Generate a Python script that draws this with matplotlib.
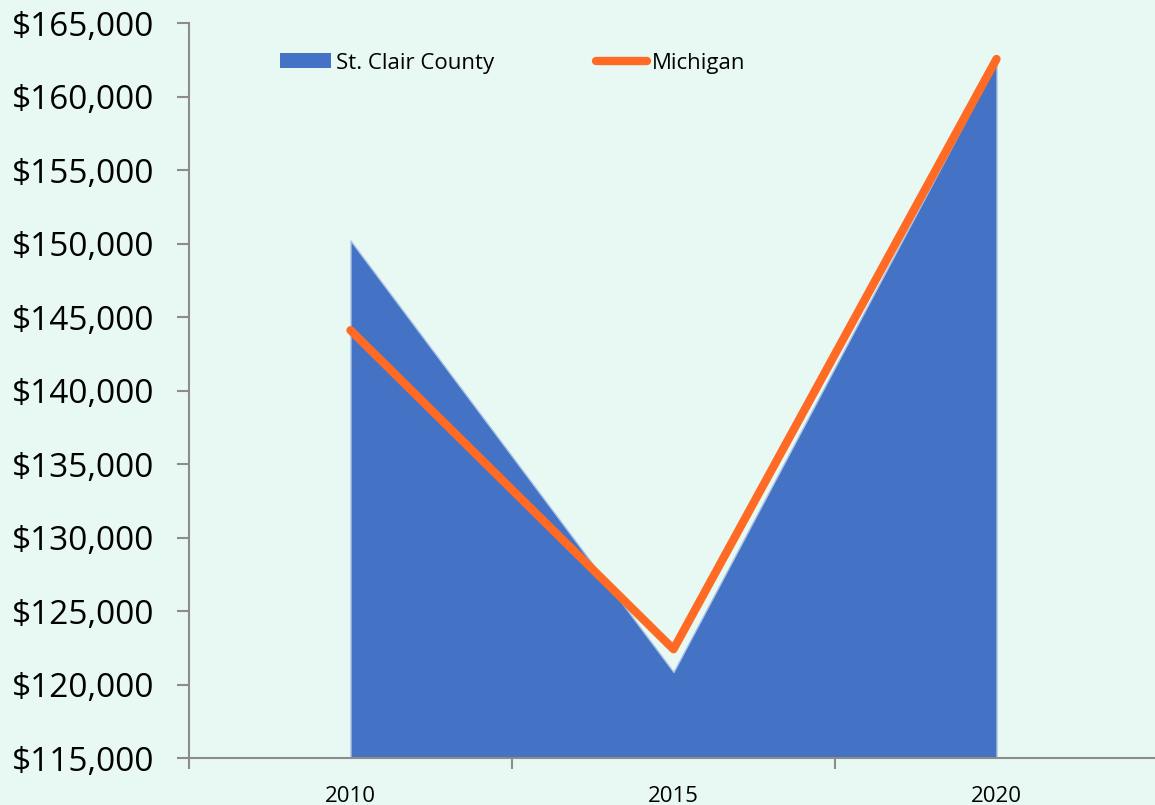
import matplotlib.pyplot as plt
from matplotlib.lines import Line2D
from matplotlib.patches import Patch
from matplotlib.ticker import FuncFormatter

years = ["2010", "2015", "2020"]
st_clair = [150200, 120850, 162300]
michigan = [144100, 122400, 162550]

y_min, y_max, y_step = 115000, 165000, 5000

bg = "#E8F8F2"
blue = "#4472C4"
orange = "#FF6B24"
axis_gray = "#8C8C8C"

plt.rcParams["font.family"] = ["Open Sans", "DejaVu Sans"]

fig = plt.figure(figsize=(11.55, 8.05), dpi=100, facecolor=bg)
ax = fig.add_axes([189 / 1155, 47 / 805, 969 / 1155, 735 / 805])
ax.set_facecolor(bg)

x = list(range(len(years)))
ax.fill_between(x, y_min, st_clair, color=blue, edgecolor="#A8C2E6", linewidth=1, zorder=2)
ax.plot(x, michigan, color=orange, linewidth=6, solid_capstyle="round",
        solid_joinstyle="round", zorder=3)

ax.set_xlim(-0.5, len(years) - 0.5)
ax.set_ylim(y_min, y_max)
ax.set_yticks(range(y_min, y_max + 1, y_step))
ax.yaxis.set_major_formatter(FuncFormatter(lambda v, _: f"${v:,.0f}"))
ax.tick_params(axis="y", labelsize=24, length=9, width=1.5, color=axis_gray, pad=16)

ax.set_xticks(x)
ax.set_xticklabels(years)
ax.set_xticks([i - 0.5 for i in range(len(years) + 1)], minor=True)
ax.tick_params(axis="x", which="major", length=0, labelsize=16, pad=20)
ax.tick_params(axis="x", which="minor", length=8, width=1.5, color=axis_gray)

for side in ["top", "right"]:
    ax.spines[side].set_visible(False)
for side in ["left", "bottom"]:
    ax.spines[side].set_color(axis_gray)
    ax.spines[side].set_linewidth(1.5)
    ax.spines[side].set_zorder(4)

handles = [
    Patch(facecolor=blue, edgecolor="none", label="St. Clair County"),
    Line2D([0], [0], color=orange, linewidth=6, solid_capstyle="round", label="Michigan"),
]
fig.legend(handles=handles, loc="center left", bbox_to_anchor=(260 / 1155, 1 - 63 / 805),
           ncol=2, frameon=False, fontsize=16, handlelength=2.3, handleheight=0.63,
           handletextpad=0.2, columnspacing=4.6)

fig.savefig("out.png", dpi=100, facecolor=bg)
